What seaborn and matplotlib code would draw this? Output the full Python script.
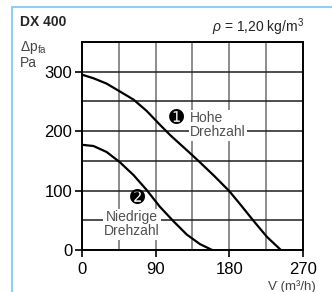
import numpy as np
import pandas as pd
import matplotlib
matplotlib.use("Agg")
import matplotlib.pyplot as plt
import seaborn as sns
from matplotlib.lines import Line2D

# Data
flow_hohe = [0, 14, 30, 46, 63, 79, 95, 108, 116, 132, 143, 162, 180, 195, 209, 226, 243]
pressure_hohe = [295, 289, 280, 267, 253, 234, 211, 193, 183, 163, 149, 124, 99, 74, 50, 22, 0]
flow_niedrig = [0, 14, 30, 46, 63, 79, 95, 112, 128, 144, 159]
pressure_niedrig = [177, 175, 165, 148, 126, 101, 73, 48, 26, 10, 0]

x_ticks = [0, 90, 180, 270]
y_ticks = [0, 100, 200, 300]

df = pd.concat([
    pd.DataFrame({"flow": flow_hohe, "dp": pressure_hohe, "curve": "Hohe"}),
    pd.DataFrame({"flow": flow_niedrig, "dp": pressure_niedrig, "curve": "Niedrig"}),
])

sns.set_theme(style="white")
plt.rcParams["font.family"] = ["Liberation Sans", "DejaVu Sans"]
plt.rcParams["mathtext.fontset"] = "custom"
plt.rcParams["mathtext.rm"] = "Liberation Sans"
plt.rcParams["mathtext.it"] = "Liberation Sans:italic"

fig = plt.figure(figsize=(3.32, 2.92), dpi=100)
ax = fig.add_axes([82/332, 1-250/292, (303-82)/332, (250-42)/292])

sns.lineplot(data=df, x="flow", y="dp", units="curve", estimator=None,
             color="black", linewidth=1.6, ax=ax, zorder=5, sort=False)

ax.set_xlim(0, 270)
ax.set_ylim(0, 347)
ax.set_xticks(x_ticks)
ax.set_yticks(y_ticks)
ax.set_xticks(np.arange(0, 271, 45), minor=True)
ax.set_yticks(np.arange(0, 351, 50), minor=True)
ax.tick_params(which="major", direction="out", length=5, width=1.2,
               color="black", labelsize=12, pad=2, colors="black")
ax.tick_params(which="minor", length=0)
ax.tick_params(axis="both", which="major", bottom=True, left=True)
ax.xaxis.grid(True, which="both", color="#6e6e6e", linewidth=1.1, zorder=0)
ax.yaxis.grid(True, which="both", color="#1e1e1e", linewidth=1.1, zorder=0)
ax.set_axisbelow(True)
for s in ax.spines.values():
    s.set_color("black")
    s.set_linewidth(1.4)
    s.set_visible(True)
ax.set_xlabel("")
ax.set_ylabel("")
ax.tick_params(axis="x", pad=4)

# annotations
box = dict(boxstyle="square,pad=0.1", fc="white", ec="none")
ax.text(116, 222, "\u278a", fontsize=13, color="black", ha="center", va="center",
        family=["DejaVu Sans"], zorder=3)
ax.text(132, 210, "Hohe\nDrehzahl", fontsize=10, color="#505050", ha="left",
        va="center", linespacing=1.0, bbox=box, zorder=3)
ax.text(68, 87, "\u278b", fontsize=13, color="black", ha="center", va="center",
        family=["DejaVu Sans"], zorder=3)
ax.text(61, 43, "Niedrige\nDrehzahl", fontsize=10, color="#505050", ha="center",
        va="center", linespacing=1.0, bbox=box, zorder=3)

# figure texts
fig.text(20/332, 1-26/292, "DX 400", fontsize=10, fontweight="bold", ha="left", va="baseline")
fig.text(20/332, 1-51/292, r"$\mathrm{\Delta p_{fa}}$", fontsize=10, color="#444444", ha="left", va="baseline")
fig.text(20/332, 1-67/292, "Pa", fontsize=10, color="#444444", ha="left", va="baseline")
fig.text(304/332, 1-32/292, r"$\rho$ = 1,20 kg/m$^{3}$", fontsize=10, color="#222222", ha="right", va="baseline")
fig.text(316/332, 2/292, "V\u0307 (m\u00b3/h)", fontsize=9.5, color="#444444", ha="right", va="baseline")

# light blue frame
fig.add_artist(Line2D([12/332, 12/332], [0, 1-7/292], transform=fig.transFigure, color="#8fd0f0", lw=1.5))
fig.add_artist(Line2D([12/332, 1], [1-7/292, 1-7/292], transform=fig.transFigure, color="#8fd0f0", lw=1.5))

fig.savefig("out.png", dpi=100)
